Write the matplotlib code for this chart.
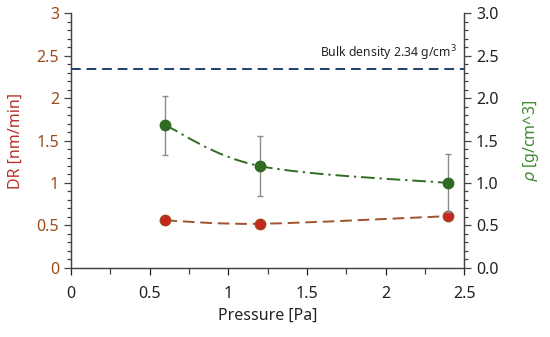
import numpy as np
import matplotlib.pyplot as plt
from matplotlib.path import Path
from matplotlib.patches import PathPatch
from matplotlib.ticker import MultipleLocator

pressure = [0.6, 1.2, 2.4]
dr = [0.56, 0.52, 0.61]
density = [1.68, 1.20, 1.00]
density_err = [0.35, 0.35, 0.34]
bulk_density = 2.34

plt.rcParams['font.family'] = ['Noto Sans', 'DejaVu Sans']


def smooth_path(x, y):
    # Catmull-Rom style cubic bezier through the points (like Excel's smoothed line)
    x = np.asarray(x, float)
    y = np.asarray(y, float)
    verts = [(x[0], y[0])]
    codes = [Path.MOVETO]
    n = len(x)
    for i in range(n - 1):
        x0, y0 = (x[i - 1], y[i - 1]) if i > 0 else (x[i], y[i])
        x3, y3 = (x[i + 2], y[i + 2]) if i + 2 < n else (x[i + 1], y[i + 1])
        c1 = (x[i] + (x[i + 1] - x0) / 6, y[i] + (y[i + 1] - y0) / 6)
        c2 = (x[i + 1] - (x3 - x[i]) / 6, y[i + 1] - (y3 - y[i]) / 6)
        verts += [c1, c2, (x[i + 1], y[i + 1])]
        codes += [Path.CURVE4] * 3
    return Path(verts, codes)


fig = plt.figure(figsize=(5.5, 3.37), dpi=100)
ax = fig.add_axes([0.129, 0.205, 0.715, 0.756])
ax2 = ax.twinx()

dr_col = '#9C4A1A'
dr_lab = '#B83227'
rho_col = '#2F6B22'
rho_lab = '#3E8A2E'

# DR series
ax.add_patch(PathPatch(smooth_path(pressure, dr), fill=False, edgecolor='#A0522D',
                       lw=1.4, linestyle=(0, (6, 3)), zorder=2))
ax.plot(pressure, dr, 'o', color='#C8261E', mec='#9C4A1A', ms=7.5, zorder=3)

# density series
ax2.errorbar(pressure, density, yerr=density_err, fmt='none', ecolor='#8C8C8C',
             elinewidth=1, capsize=2.5, zorder=1)
ax2.add_patch(PathPatch(smooth_path(pressure, density), fill=False, edgecolor=rho_col,
                        lw=1.4, linestyle=(0, (7, 2.5, 1.2, 2.5)), zorder=2))
ax2.plot(pressure, density, 'o', color=rho_col, ms=7.5, zorder=3)

ax2.axhline(bulk_density, color='#1F3F6E', lw=1.4, linestyle=(0, (5, 3)))
ax2.text(2.45, bulk_density + 0.07, 'Bulk density 2.34 g/cm$^3$', ha='right', va='bottom',
         fontsize=8.8, color='#222222')

ax.set_xlim(0, 2.5)
ax.set_ylim(0, 3)
ax2.set_ylim(0, 3)
ax.xaxis.set_major_locator(MultipleLocator(0.5))
ax.xaxis.set_minor_locator(MultipleLocator(0.25))
ax.yaxis.set_major_locator(MultipleLocator(0.5))
ax.yaxis.set_minor_locator(MultipleLocator(0.1))
ax2.yaxis.set_major_locator(MultipleLocator(0.5))
ax2.yaxis.set_minor_locator(MultipleLocator(0.1))
ax.set_xticks([0, 0.5, 1, 1.5, 2, 2.5])
ax.set_xticklabels(['0', '0.5', '1', '1.5', '2', '2.5'])
ax.set_yticks([0, 0.5, 1, 1.5, 2, 2.5, 3])
ax.set_yticklabels(['0', '0.5', '1', '1.5', '2', '2.5', '3'])
ax2.set_yticks([0, 0.5, 1, 1.5, 2, 2.5, 3])
ax2.set_yticklabels(['0.0', '0.5', '1.0', '1.5', '2.0', '2.5', '3.0'])

for a in (ax, ax2):
    a.spines['top'].set_visible(False)
    for s in a.spines.values():
        s.set_color('#444444')
        s.set_linewidth(0.9)
    a.tick_params(which='both', direction='out', color='#444444', width=0.9)
    a.tick_params(which='major', length=5)
    a.tick_params(which='minor', length=5)

ax.tick_params(axis='x', which='minor', length=4)
ax.tick_params(axis='x', labelsize=11.5, colors='#222222', pad=8)
ax.tick_params(axis='y', which='major', labelsize=11.5, labelcolor=dr_col)
ax.tick_params(axis='y', which='minor', length=3)
ax2.tick_params(axis='y', which='major', labelsize=11.5, labelcolor='#222222')
ax2.tick_params(axis='y', which='minor', length=3)

ax.set_xlabel('Pressure [Pa]', fontsize=11.5, color='#222222')
ax.set_ylabel('DR [nm/min]', fontsize=11.5, color=dr_lab, labelpad=9)
ax2.set_ylabel(r'$\rho$ [g/cm^3]', fontsize=11.5, color=rho_lab, labelpad=16)

fig.savefig('out.png', dpi=100)
